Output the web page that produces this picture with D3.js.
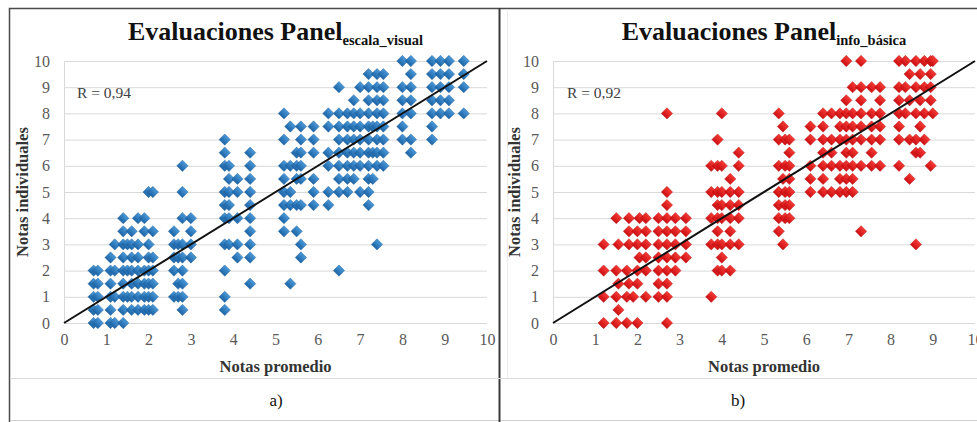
<!DOCTYPE html>
<html><head><meta charset="utf-8">
<script src="https://cdn.jsdelivr.net/npm/d3@7"></script>
<style>
html,body{margin:0;padding:0;background:#fff;}
svg{display:block;}
</style></head>
<body><svg id="c" width="977" height="422"></svg>
<script>
// ---- data ----
const xTicks = [0,1,2,3,4,5,6,7,8,9,10];
const yTicks = [0,1,2,3,4,5,6,7,8,9,10];
const titleMain = "Evaluaciones Panel";
const subLeft = "escala_visual";
const subRight = "info_básica";
const rLeft = "R = 0,94";
const rRight = "R = 0,92";
const captions = ["a)", "b)"];
const xLabel = "Notas promedio";
const yLabel = "Notas individuales";
// columns: [nota promedio, [notas individuales]]
const leftColumns = [
  [0.7,[0,0.5,1,1.5,2]],[0.8,[0,0.5,1,1.5,2]],[1.1,[0,0.5,1,1.5,2,2.5]],
  [1.2,[0,1,2,3]],[1.4,[0,0.5,1,1.5,2,2.5,3,3.5,4]],[1.5,[1,2,3]],
  [1.6,[0.5,1,1.5,2,2.5,3,3.5]],[1.75,[0.5,1,1.5,2,2.5,3,4]],
  [1.9,[0.5,1,1.5,2,3.5,4]],[2.0,[0.5,1,1.5,2,2.5,3,5]],[2.1,[0.5,1,1.5,2,2.5,3.5,5]],
  [2.6,[1,2,2.5,3,3.5]],[2.7,[1,1.5,2.5,3]],[2.8,[0.5,1,1.5,2,2.5,3,4,5,6]],[3.0,[2.5,3,3.5,4]],
  [3.8,[0.5,1,2,3,4,4.5,5,6,6.5,7]],[3.9,[3,4,4.5,5,5.5,6]],[4.1,[2.5,3,4,5,5.5]],
  [4.4,[1.5,2.5,3,3.5,4,4.5,5,5.5,6,6.5]],
  [5.2,[3.5,4,4.5,5,5.5,6,7,8]],[5.35,[1.5,4.5,5,6,7.5]],[5.5,[3.5,4.5,5.5,6,6.5]],
  [5.6,[2.5,3,4.5,5.5,6,6.5,7,7.5]],[5.9,[4.5,5,5.5,6.5,7,7.5]],[6.25,[4.5,5,6,6.5,7.5,8]],
  [6.5,[2,5,5.5,6,6.5,7,7.5,8,9]],
  [6.7,[5,5.5,6,6.5,7,7.5,8]],[6.85,[5.5,6,6.5,7,7.5,8,8.5]],[7.0,[5,6,6.5,7,7.5,8,9]],
  [7.2,[4.5,5,5.5,6,6.5,7,7.5,8,8.5,9,9.5]],[7.3,[5.5,6.5,7.5]],
  [7.4,[3,6,6.5,7,7.5,8,8.5,9,9.5]],[7.55,[6,6.5,7,7.5,8,8.5,9,9.5]],
  [8.0,[7,7.5,8,8.5,9,10]],[8.2,[6.5,7,8,8.5,9,9.5,10]],
  [8.7,[7,7.5,8,8.5,9,9.5,10]],[8.9,[8,8.5,9,9.5,10]],[9.1,[8,8.5,9,9.5,10]],[9.45,[8,9,9.5,10]]
];
const rightColumns = [
  [1.2,[0,1,2,3]],[1.5,[0,1,2,4]],[1.55,[0.5,1.5,3]],[1.75,[0,1,2]],[1.8,[1.5,3,3.5,4]],
  [1.9,[1]],[2.0,[0,1.5,2,3,3.5]],[2.05,[2.5,4]],[2.2,[1,2,2.5,3,3.5,4]],
  [2.5,[1,1.5,2,2.5,3,3.5,4]],[2.7,[0,1,1.5,2,2.5,3,3.5,4,4.5,5,8]],
  [2.9,[2,2.5,3,3.5,4]],[3.15,[2.5,3,3.5,4]],
  [3.75,[1,3,4,5,6]],[3.9,[2,3,3.5,4,4.5,5,6,7]],[4.0,[2,2.5,3,4,4.5,5,6,8]],
  [4.2,[2,3,3.5,4,4.5,5,5.5]],[4.4,[3,4,4.5,5,6,6.5]],
  [5.35,[3.5,4,4.5,5,6,7,8]],[5.45,[3,5.5,7.5]],[5.5,[4,4.5,5,6,7]],[5.6,[4,4.5,5,5.5,6,6.5,7]],
  [6.1,[5,5.5,6,7,7.5]],[6.4,[5,5.5,6,6.5,7,7.5,8]],[6.6,[5,6,6.5,7,8]],
  [6.8,[5,5.5,6,7,7.5,8]],[6.95,[5,5.5,6,6.5,7,7.5,8,8.5,10]],[7.1,[5,5.5,6,6.5,7,7.5,8,9]],
  [7.3,[3.5,6,7,7.5,8,8.5,9,10]],[7.55,[6,6.5,7,7.5,8,9]],[7.75,[6,7,7.5,8,8.5,9]],
  [8.2,[6,7,7.5,8,8.5,9,10]],[8.35,[8,9,10]],[8.45,[5.5,7,8.5,9.5]],
  [8.6,[3,6.5,7,8,9,10]],[8.7,[6.5,7.5,8.5,9.5]],[8.8,[7,8,9,10]],
  [8.95,[6,8.5,9,9.5,10]],[9.0,[8,10]]
];
const trend = [[0,0],[10,10]];

// ---- drawing ----
const SERIF = '"Liberation Serif", "Times New Roman", serif';
const svg = d3.select("#c");
const defs = svg.append("defs");
function grad(id, c1, c2){
  const g = defs.append("linearGradient").attr("id",id).attr("x1",0).attr("y1",0).attr("x2",0).attr("y2",1);
  g.append("stop").attr("offset","0%").attr("stop-color",c1);
  g.append("stop").attr("offset","100%").attr("stop-color",c2);
}
grad("gBlue","#4a98d8","#1c64a6");
grad("gRed","#f53a35","#cc0f12");

// frame
svg.append("rect").attr("x",9.5).attr("y",8.5).attr("width",980).attr("height",420)
  .attr("fill","none").attr("stroke","#4a4a4a").attr("stroke-width",1.5);
svg.append("line").attr("x1",10).attr("x2",977).attr("y1",420.5).attr("y2",420.5)
  .attr("stroke","#d0d0d0").attr("stroke-width",1);
svg.append("line").attr("x1",499.5).attr("x2",499.5).attr("y1",8).attr("y2",422)
  .attr("stroke","#3a3a3a").attr("stroke-width",2);
svg.append("line").attr("x1",10).attr("x2",977).attr("y1",378.5).attr("y2",378.5)
  .attr("stroke","#dcdcdc").attr("stroke-width",1);
svg.append("line").attr("x1",507.5).attr("x2",507.5).attr("y1",9).attr("y2",378)
  .attr("stroke","#ececec").attr("stroke-width",1);

const panels = [
  {cols:leftColumns, sub:subLeft, r:rLeft, cap:captions[0], x0:64, x1:487, fill:"url(#gBlue)", stroke:"#1a5a96", ylab:22.5, rx:77, tickR:50},
  {cols:rightColumns, sub:subRight, r:rRight, cap:captions[1], x0:553, x1:975, fill:"url(#gRed)", stroke:"#b50c0e", ylab:514, rx:567, tickR:539}
];

panels.forEach(p => {
  const x = d3.scaleLinear().domain([0,10]).range([p.x0,p.x1]);
  const y = d3.scaleLinear().domain([0,10]).range([323,61]);
  const g = svg.append("g");

  // grid
  g.append("g").attr("transform",`translate(${p.x0},0)`)
    .call(d3.axisLeft(y).tickValues(yTicks).tickSize(-(p.x1-p.x0)).tickFormat(""))
    .call(s => { s.select(".domain").attr("stroke","#d9d9d9"); s.selectAll("line").attr("stroke","#d9d9d9"); });

  // y tick labels
  g.append("g").attr("transform",`translate(${p.tickR},0)`)
    .call(d3.axisLeft(y).tickValues(yTicks).tickSize(0).tickPadding(0))
    .call(s => { s.select(".domain").remove();
      s.selectAll("text").style("font-family",SERIF).style("font-size","16px").attr("fill","#595959"); });

  // x tick labels
  g.append("g").attr("transform",`translate(0,334)`)
    .call(d3.axisBottom(x).tickValues(xTicks).tickSize(0).tickPadding(0))
    .call(s => { s.select(".domain").remove();
      s.selectAll("text").style("font-family",SERIF).style("font-size","16px").attr("fill","#595959"); });

  // points
  const pts = [];
  p.cols.forEach(([cx, ys]) => ys.forEach(v => pts.push([cx, v])));
  const sym = d3.symbol(d3.symbolSquare, 64);
  g.append("g").selectAll("path").data(pts).join("path")
    .attr("d", sym)
    .attr("transform", d => `translate(${x(d[0])},${y(d[1])}) rotate(45)`)
    .attr("fill", p.fill).attr("stroke", p.stroke).attr("stroke-width",0.4);

  // trend line
  g.append("path").datum(trend)
    .attr("d", d3.line().x(d => x(d[0])).y(d => y(d[1])))
    .attr("stroke","#111").attr("stroke-width",2).attr("fill","none");

  // title
  const cx = (p.x0 + p.x1)/2;
  const t = g.append("text").attr("x",cx).attr("y",40).attr("text-anchor","middle")
    .style("font-family",SERIF).style("font-weight","bold").attr("fill","#111");
  t.append("tspan").style("font-size","26px").text(titleMain);
  t.append("tspan").style("font-size","14.5px").attr("dy",5).text(p.sub);

  // R text
  g.append("text").attr("x",p.rx).attr("y",98).style("font-family",SERIF).style("font-size","15.5px")
    .attr("fill","#404040").text(p.r);

  // axis titles
  g.append("text").attr("x",cx).attr("y",372).attr("text-anchor","middle")
    .style("font-family",SERIF).style("font-size","16.5px").style("font-weight","bold").attr("fill","#333").text(xLabel);
  g.append("text").attr("transform",`translate(${p.ylab+5.5},192) rotate(-90)`).attr("text-anchor","middle")
    .style("font-family",SERIF).style("font-size","16.5px").style("font-weight","bold").attr("fill","#333").text(yLabel);

  // caption
  const capX = p.x0 === 64 ? 276 : 738;
  g.append("text").attr("x",capX).attr("y",406).attr("text-anchor","middle")
    .style("font-family",SERIF).style("font-size","17px").attr("fill","#111").text(p.cap);
});
</script></body></html>
